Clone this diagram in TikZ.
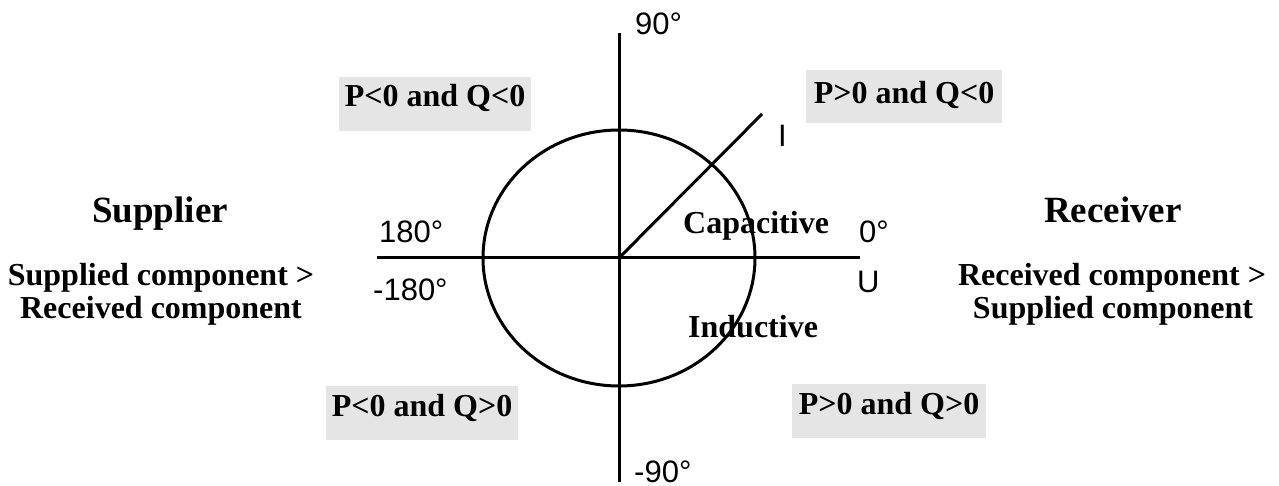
\documentclass[tikz,border=0pt]{standalone}
\usepackage{fontspec}
\setmainfont{Liberation Serif}
\setsansfont{Liberation Sans}
\usepackage{tikz}
\usetikzlibrary{positioning}
\definecolor{boxgray}{RGB}{229,229,229}
\newcommand\qdfont{\rmfamily\bfseries\fontsize{32}{38}\selectfont}
\newcommand\ttlfont{\rmfamily\bfseries\fontsize{37}{44}\selectfont}
\newcommand\angfont{\sffamily\fontsize{31}{37}\selectfont}
\tikzset{
  quad-box/.style={fill=boxgray,inner xsep=6pt,inner ysep=0pt,text height=30pt,text depth=24pt,anchor=base,font=\qdfont},
  ang-lbl/.style={inner sep=0pt,anchor=base west,font=\angfont},
  zone-lbl/.style={inner sep=0pt,anchor=base west,font=\qdfont},
  side-ttl/.style={inner sep=0pt,anchor=base,font=\ttlfont},
  side-txt/.style={inner sep=0pt,anchor=base,font=\qdfont},
  axis/.style={draw,line width=3pt},
}

\begin{document}
\begin{tikzpicture}[x=1pt,y=-1pt]
  \useasboundingbox (0,0) rectangle (1279,486);

  % QUADRANT BOXES
  \node[quad-box] (q2) at (435,107) {P<0 and Q<0};
  \node[quad-box,text height=34pt,text depth=19pt,inner xsep=8pt] (q1) at (904,104) {P>0 and Q<0};
  \node[quad-box] (q3) at (422,416) {P<0 and Q>0};
  \node[quad-box,inner xsep=7pt] (q4) at (889,414) {P>0 and Q>0};

  % AXES AND CIRCLE
  \coordinate (o)    at (619,258);
  \coordinate (ytop) at (619,33);
  \coordinate (ybot) at (619,482);
  \coordinate (xl)   at (377,258);
  \coordinate (xr)   at (860,258);
  \coordinate (iend) at (762,114);
  \draw[axis] (xl) -- (xr);
  \draw[axis] (ytop) -- (ybot);
  \draw[axis] (o) -- (iend);
  \draw[axis] (o) ellipse [x radius=136,y radius=128];

  % ANGLES
  \node[ang-lbl] (a90)   at (635,35)  {90°};
  \node[ang-lbl] (a0)    at (859,243) {0°};
  \node[ang-lbl] (u)     at (857,292) {U};
  \node[ang-lbl] (i)     at (778,147) {I};
  \node[ang-lbl] (a180)  at (379,243) {180°};
  \node[ang-lbl] (am180) at (373,301) {-180°};
  \node[ang-lbl] (am90)  at (634,482) {-90°};

  % ZONES
  \node[zone-lbl] (cap) at (683,234) {Capacitive};
  \node[zone-lbl] (ind) at (688,337) {Inductive};

  % SIDES
  \node[side-ttl] (sup)   at (160,223)  {Supplier};
  \node[side-txt] (sup1)  at (161,286)  {Supplied component >};
  \node[side-txt] (sup2)  at (161,318)  {Received component};
  \node[side-ttl] (rec)   at (1113,223) {Receiver};
  \node[side-txt] (rec1)  at (1112,286) {Received component >};
  \node[side-txt] (rec2)  at (1113,318) {Supplied component};

\end{tikzpicture}
\end{document}
